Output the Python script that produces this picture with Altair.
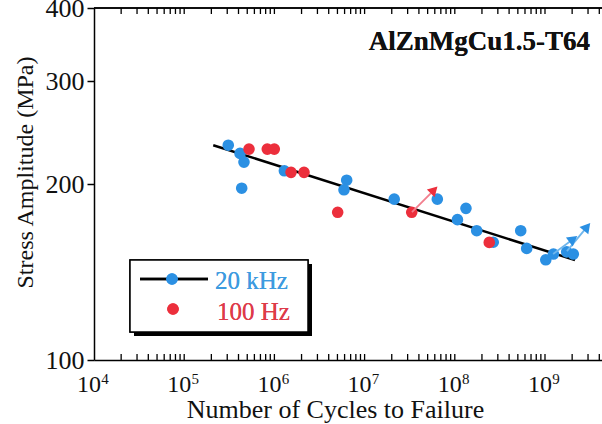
import math
import altair as alt
import pandas as pd

# ---- data -------------------------------------------------------------
# 20 kHz (ultrasonic) fatigue tests
blue_cycles = [3.08e5, 4.16e5, 4.60e5, 4.34e5, 1.29e6, 6.33e6, 5.91e6, 2.13e7,
               6.40e7, 1.33e8, 1.07e8, 1.75e8, 2.67e8, 5.38e8, 6.27e8, 1.02e9,
               1.24e9, 1.74e9, 2.06e9]
blue_stress = [233, 225.6, 218, 196.7, 210.7, 203, 195.5, 188.4,
               188.4, 181.7, 173.8, 166.4, 159, 166.4, 155.2, 148.4,
               151.8, 153.1, 151.8]

# 100 Hz (servo-hydraulic) fatigue tests
red_cycles = [5.23e5, 8.34e5, 9.97e5, 1.53e6, 2.13e6, 5.03e6, 3.33e7, 2.41e8]
red_stress = [229.5, 229.5, 229.5, 209.4, 209.4, 178.9, 178.9, 158.9]

# S-N trend line
fit_cycles = [2.10e5, 2.15e9]
fit_stress = [233, 148.2]

# run-outs (specimens without failure), drawn as arrows
runout_from_cycles = [3.35e7, 1.23e9, 1.75e9]
runout_from_stress = [179, 151.8, 153.5]
runout_to_cycles = [5.73e7, 1.99e9, 2.85e9]
runout_to_stress = [194.5, 160.4, 168.1]
runout_series = ["100 Hz", "20 kHz", "20 kHz"]

decades = [4, 5, 6, 7, 8, 9]
y_ticks = [100, 200, 300, 400]
legend_labels = ["20 kHz", "100 Hz"]
title_text = "AlZnMgCu1.5-T64"
x_title = "Number of Cycles to Failure"
y_title = "Stress Amplitude (MPa)"

# ---- layout / style ----------------------------------------------------
W, H = 508, 352
X_MIN, X_MAX = 1e4, 10 ** 9.632
Y_MIN, Y_MAX = 100, 400
FONT = "Liberation Serif"
BLUE = "#2b90e3"
RED = "#ec2f3c"
BLUE_TXT = "#3d9be0"
RED_TXT = "#de3b4a"

xs = alt.Scale(type="log", domain=[X_MIN, X_MAX], nice=False)
ys = alt.Scale(type="log", domain=[Y_MIN, Y_MAX], nice=False)

x_axis = alt.Axis(
    labels=False, ticks=False, grid=False,
    domainColor="black", domainWidth=1.5,
    title=x_title, titleFont=FONT, titleFontSize=26, titleFontWeight="normal",
    titleColor="#111", titleX=241, titleY=57, titleAlign="center",
    titleBaseline="alphabetic",
)
y_axis = alt.Axis(
    values=y_ticks, format="d", grid=False,
    labelFont=FONT, labelFontSize=26, labelColor="#111", labelPadding=3,
    labelFlush=False, labelOverlap=False,
    tickSize=7, tickWidth=1.5, tickColor="black",
    domainColor="black", domainWidth=1.5,
    title=y_title, titleFont=FONT, titleFontSize=24, titleFontWeight="normal",
    titleColor="#111", titleX=-69, titleY=164, titleAlign="center",
    titleBaseline="middle", titleAngle=270,
)


def X(field):
    return alt.X(field, type="quantitative", scale=xs, axis=x_axis)


def Y(field):
    return alt.Y(field, type="quantitative", scale=ys, axis=y_axis)


blue_df = pd.DataFrame({"N": blue_cycles, "S": blue_stress})
red_df = pd.DataFrame({"N": red_cycles, "S": red_stress})
fit_df = pd.DataFrame({"N": fit_cycles, "S": fit_stress})

px_per_dec_x = W / (math.log10(X_MAX) - math.log10(X_MIN))
px_per_dec_y = H / (math.log10(Y_MAX) - math.log10(Y_MIN))
arrow_df = pd.DataFrame({
    "N": runout_from_cycles, "S": runout_from_stress,
    "N2": runout_to_cycles, "S2": runout_to_stress,
    "series": runout_series,
})
arrow_df["angle"] = [
    math.degrees(math.atan2(
        (math.log10(n2) - math.log10(n1)) * px_per_dec_x,
        (math.log10(s2) - math.log10(s1)) * px_per_dec_y))
    for n1, s1, n2, s2 in zip(arrow_df.N, arrow_df.S, arrow_df.N2, arrow_df.S2)
]

# inward ticks on bottom and top frame
tick_vals = [m * 10.0 ** e for e in decades for m in range(1, 10)
             if X_MIN < m * 10.0 ** e <= X_MAX]
tick_df = pd.DataFrame({"N": tick_vals})
lab_df = pd.DataFrame({"N": [10.0 ** d for d in decades],
                       "base": ["10"] * len(decades),
                       "exp": [str(d) for d in decades]})

# ---- layers ------------------------------------------------------------
ticks_bottom = alt.Chart(tick_df).mark_rule(color="black", strokeWidth=1.3).encode(
    x=X("N"), y=alt.value(H), y2=alt.value(H - 6))
ticks_top = alt.Chart(tick_df).mark_rule(color="black", strokeWidth=1.3).encode(
    x=X("N"), y=alt.value(0), y2=alt.value(6))
top_frame = alt.Chart(fit_df).mark_rule(color="black", strokeWidth=1.5).encode(
    x=alt.value(0), x2=alt.value(W), y=alt.value(0))

x_base = alt.Chart(lab_df).mark_text(
    font=FONT, fontSize=24, color="#111", align="center", baseline="alphabetic", dx=-5
).encode(x=X("N"), y=alt.value(384), text="base:N")
x_exp = alt.Chart(lab_df).mark_text(
    font=FONT, fontSize=15, color="#111", align="center", baseline="alphabetic", dx=11
).encode(x=X("N"), y=alt.value(376), text="exp:N")

fit_line = alt.Chart(fit_df).mark_line(color="black", strokeWidth=2.5).encode(
    x=X("N"), y=Y("S"))
blue_pts = alt.Chart(blue_df).mark_circle(size=135, opacity=1, color=BLUE).encode(
    x=X("N"), y=Y("S"))
red_pts = alt.Chart(red_df).mark_circle(size=135, opacity=1, color=RED).encode(
    x=X("N"), y=Y("S"))

red_arrows = arrow_df[arrow_df.series == "100 Hz"]
blue_arrows = arrow_df[arrow_df.series == "20 kHz"]
red_shaft = alt.Chart(red_arrows).mark_rule(color="#f27f8e", strokeWidth=1.8).encode(
    x=X("N"), y=Y("S"), x2="N2", y2="S2")
blue_shaft = alt.Chart(blue_arrows).mark_rule(color="#6fb6ec", strokeWidth=1.8).encode(
    x=X("N"), y=Y("S"), x2="N2", y2="S2")
red_head = alt.Chart(red_arrows).mark_point(
    shape="triangle", filled=True, size=120, opacity=1, color=RED
).encode(x=X("N2"), y=Y("S2"), angle=alt.Angle("angle:Q", scale=None))
blue_head = alt.Chart(blue_arrows).mark_point(
    shape="triangle", filled=True, size=130, opacity=1, color=BLUE
).encode(x=X("N2"), y=Y("S2"), angle=alt.Angle("angle:Q", scale=None))

# legend box with drop shadow
leg_shadow = alt.Chart(fit_df).mark_rect(color="black").encode(
    x=alt.value(40), x2=alt.value(218), y=alt.value(256), y2=alt.value(328))
leg_box = alt.Chart(fit_df).mark_rect(fill="white", stroke="black", strokeWidth=1.5).encode(
    x=alt.value(36), x2=alt.value(214), y=alt.value(252), y2=alt.value(324))
leg_line = alt.Chart(fit_df).mark_rule(color="black", strokeWidth=2.5).encode(
    x=alt.value(46), x2=alt.value(114), y=alt.value(271))
leg_dot_blue = alt.Chart(fit_df).mark_circle(size=135, opacity=1, color=BLUE).encode(
    x=alt.value(78), y=alt.value(271))
leg_dot_red = alt.Chart(fit_df).mark_circle(size=135, opacity=1, color=RED).encode(
    x=alt.value(79), y=alt.value(301))
leg_txt_blue = alt.Chart(fit_df).mark_text(
    text=legend_labels[0], font=FONT, fontSize=25, color=BLUE_TXT,
    align="left", baseline="middle"
).encode(x=alt.value(121), y=alt.value(273))
leg_txt_red = alt.Chart(fit_df).mark_text(
    text=legend_labels[1], font=FONT, fontSize=25, color=RED_TXT,
    align="left", baseline="middle"
).encode(x=alt.value(123), y=alt.value(304))

title = alt.Chart(fit_df).mark_text(
    text=title_text, font=FONT, fontSize=27, fontWeight="bold", color="#111",
    align="right", baseline="alphabetic"
).encode(x=alt.value(496), y=alt.value(42))

chart = alt.layer(
    ticks_bottom, ticks_top, top_frame, x_base, x_exp,
    fit_line, blue_pts, red_pts,
    red_shaft, blue_shaft, red_head, blue_head,
    leg_shadow, leg_box, leg_line, leg_dot_blue, leg_dot_red,
    leg_txt_blue, leg_txt_red, title,
).properties(
    width=W, height=H,
    autosize=alt.AutoSizeParams(type="none"),
    padding={"left": 94, "top": 8, "right": 0, "bottom": 64},
    background="white",
).configure_view(stroke=None)

chart.save("out.html", embed_options={"renderer": "svg", "actions": False})
